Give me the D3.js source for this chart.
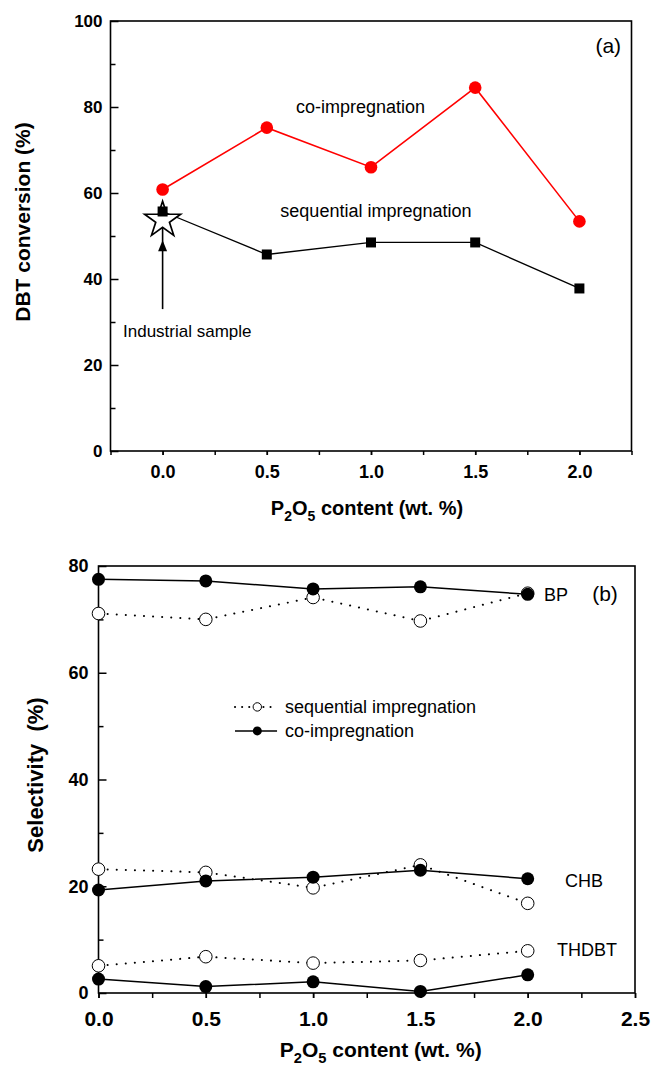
<!DOCTYPE html>
<meta charset="utf-8">
<style>
  body { margin: 0; background: #fff; }
  svg { display: block; font-family: "Liberation Sans", Arial, sans-serif; }
  .axis text { font-weight: bold; fill: #000; }
  .axis line { stroke: #000; stroke-width: 1.5; }
  .note { font-size: 18px; fill: #000; }
</style>
<body>
<script src="https://cdn.jsdelivr.net/npm/d3@7"></script>
<script>
// P2O5 loading (wt. %)
var pContent = [0, 0.5, 1.0, 1.5, 2.0];

// (a) DBT conversion (%)
var dbtCo  = [60.8, 75.2, 66.0, 84.5, 53.4];
var dbtSeq = [55.7, 45.7, 48.5, 48.5, 37.8];
var industrialDBT = 53.7;

// (b) selectivity (%)
var bpCo     = [77.5, 77.2, 75.7, 76.1, 74.7];
var bpSeq    = [71.1, 70.0, 74.1, 69.7, 74.9];
var chbCo    = [19.3, 21.0, 21.7, 23.0, 21.4];
var chbSeq   = [23.2, 22.6, 19.7, 24.0, 16.8];
var thdbtCo  = [2.6, 1.2, 2.1, 0.3, 3.4];
var thdbtSeq = [5.1, 6.8, 5.6, 6.1, 7.9];

var xTicksA = [0, 0.5, 1.0, 1.5, 2.0];
var yTicksA = [0, 20, 40, 60, 80, 100];
var xTicksB = [0, 0.5, 1.0, 1.5, 2.0, 2.5];
var yTicksB = [0, 20, 40, 60, 80];

var width = 652, height = 1072;
var svg = d3.select("body").append("svg")
  .attr("width", width)
  .attr("height", height);
svg.append("rect").attr("width", width).attr("height", height).attr("fill", "#fff");

var xA = d3.scaleLinear().domain([-0.25, 2.25]).range([110.5, 631.5]);
var yA = d3.scaleLinear().domain([0, 100]).range([451, 21]);
var xB = d3.scaleLinear().domain([0, 2.5]).range([98.5, 635]);
var yB = d3.scaleLinear().domain([0, 80]).range([993, 566]);

function zip(xs, ys) { return xs.map(function(x, i) { return [x, ys[i]]; }); }
function fmt1(d) { return d.toFixed(1); }

function drawAxes(g, x, y, o) {
  // minor x ticks (every 0.25), outward
  g.append("g").attr("class", "axis")
    .attr("transform", "translate(0," + y.range()[0] + ")")
    .call(d3.axisBottom(x).tickValues(d3.range(x.domain()[0], x.domain()[1] + 0.01, 0.25))
      .tickSize(o.xTick).tickFormat(""))
    .select(".domain").remove();
  // labelled x ticks
  g.append("g").attr("class", "axis")
    .attr("transform", "translate(0," + y.range()[0] + ")")
    .call(d3.axisBottom(x).tickValues(o.xTicks).tickSize(o.xTick).tickPadding(o.xPad).tickFormat(fmt1))
    .call(function(a) {
      a.select(".domain").remove();
      a.selectAll("text").style("font-size", o.xFont + "px");
    });
  // y ticks, inward
  g.append("g").attr("class", "axis")
    .attr("transform", "translate(" + x.range()[0] + ",0)")
    .call(d3.axisLeft(y).tickValues(o.yTicks.slice(0, -1).map(function(v) { return v + 10; }))
      .tickSize(-5).tickFormat(""))
    .select(".domain").remove();
  g.append("g").attr("class", "axis")
    .attr("transform", "translate(" + x.range()[0] + ",0)")
    .call(d3.axisLeft(y).tickValues(o.yTicks).tickSize(-8).tickPadding(o.yPad).tickFormat(d3.format("d")))
    .call(function(a) {
      a.select(".domain").remove();
      a.selectAll("text").style("font-size", o.yFont + "px");
    });
  // frame
  g.append("rect")
    .attr("x", x.range()[0]).attr("y", y.range()[1])
    .attr("width", x.range()[1] - x.range()[0])
    .attr("height", y.range()[0] - y.range()[1])
    .attr("fill", "none").attr("stroke", "#000").attr("stroke-width", 1.6);

  // x title with subscripts
  var t = g.append("text")
    .attr("x", (x.range()[0] + x.range()[1]) / 2 + o.titleShift)
    .attr("y", o.xTitleY)
    .attr("text-anchor", "middle")
    .style("font-size", o.titleFont + "px")
    .style("font-weight", "bold");
  t.append("tspan").text("P");
  t.append("tspan").attr("dy", 6).style("font-size", (o.titleFont * 0.7) + "px").text("2");
  t.append("tspan").attr("dy", -6).text("O");
  t.append("tspan").attr("dy", 6).style("font-size", (o.titleFont * 0.7) + "px").text("5");
  t.append("tspan").attr("dy", -6).text(" content (wt. %)");

  g.append("text")
    .attr("transform", "translate(" + o.yTitleX + "," + o.yTitleY + ") rotate(-90)")
    .attr("text-anchor", "middle")
    .style("font-size", o.titleFont + 1 + "px")
    .style("font-weight", "bold")
    .style("white-space", "pre")
    .text(o.yTitle);
}

// ---------- panel (a) ----------
var ga = svg.append("g");
drawAxes(ga, xA, yA, {
  xTicks: xTicksA, yTicks: yTicksA, xTick: 4, xPad: 10, yPad: 8,
  xFont: 18, yFont: 17, titleFont: 20, titleShift: -4,
  xTitleY: 515, yTitleX: 30, yTitleY: 222, yTitle: "DBT conversion (%)"
});

var lineA = d3.line().x(function(d) { return xA(d[0]); }).y(function(d) { return yA(d[1]); });

// industrial sample arrow
ga.append("line")
  .attr("x1", xA(0)).attr("x2", xA(0))
  .attr("y1", yA(33)).attr("y2", yA(57))
  .attr("stroke", "#000").attr("stroke-width", 1.6);
function arrowHead(g, cx, tipY) {
  g.append("path")
    .attr("d", "M" + cx + "," + tipY + "l-4.5,11l9,0z")
    .attr("fill", "#000");
}
arrowHead(ga, xA(0), yA(57.3));
arrowHead(ga, xA(0), yA(49.0));

ga.append("path").datum(zip(pContent, dbtSeq))
  .attr("d", lineA).attr("fill", "none").attr("stroke", "#000").attr("stroke-width", 1.3);
ga.append("path").datum(zip(pContent, dbtCo))
  .attr("d", lineA).attr("fill", "none").attr("stroke", "#f00").attr("stroke-width", 1.6);

// star for the industrial catalyst
ga.append("path")
  .attr("transform", "translate(" + xA(0) + "," + yA(industrialDBT) + ")")
  .attr("d", d3.symbol().type(d3.symbolStar).size(400))
  .attr("fill", "#fff").attr("stroke", "#000").attr("stroke-width", 1.7);

ga.selectAll("rect.sq").data(zip(pContent, dbtSeq)).join("rect")
  .attr("class", "sq")
  .attr("x", function(d) { return xA(d[0]) - 5; })
  .attr("y", function(d) { return yA(d[1]) - 5; })
  .attr("width", 10).attr("height", 10).attr("fill", "#000");
ga.selectAll("circle.co").data(zip(pContent, dbtCo)).join("circle")
  .attr("class", "co")
  .attr("cx", function(d) { return xA(d[0]); })
  .attr("cy", function(d) { return yA(d[1]); })
  .attr("r", 6.3).attr("fill", "#f00");

ga.append("text").attr("class", "note").attr("x", xA(0.64)).attr("y", yA(78.6)).text("co-impregnation");
ga.append("text").attr("class", "note").attr("x", xA(0.565)).attr("y", yA(54.4)).text("sequential impregnation");
ga.append("text").attr("class", "note").attr("x", xA(-0.19)).attr("y", yA(26.5)).style("font-size", "17px").text("Industrial sample");
ga.append("text").attr("class", "note").attr("x", xA(2.2)).attr("y", yA(92.6))
  .attr("text-anchor", "end").style("font-size", "21px").text("(a)");

// ---------- panel (b) ----------
var gb = svg.append("g");
drawAxes(gb, xB, yB, {
  xTicks: xTicksB, yTicks: yTicksB, xTick: 5, xPad: 13, yPad: 10,
  xFont: 21, yFont: 18, titleFont: 21, titleShift: 14,
  xTitleY: 1057, yTitleX: 43, yTitleY: 775, yTitle: "Selectivity  (%)"
});

var lineB = d3.line().x(function(d) { return xB(d[0]); }).y(function(d) { return yB(d[1]); });
var seqSeries = [bpSeq, chbSeq, thdbtSeq];
var coSeries = [bpCo, chbCo, thdbtCo];

seqSeries.forEach(function(s) {
  gb.append("path").datum(zip(pContent, s))
    .attr("d", lineB).attr("fill", "none").attr("stroke", "#000")
    .attr("stroke-width", 2).attr("stroke-linecap", "round").attr("stroke-dasharray", "0.1 9");
});
coSeries.forEach(function(s) {
  gb.append("path").datum(zip(pContent, s))
    .attr("d", lineB).attr("fill", "none").attr("stroke", "#000").attr("stroke-width", 1.5);
});
seqSeries.forEach(function(s) {
  gb.append("g").selectAll("circle").data(zip(pContent, s)).join("circle")
    .attr("cx", function(d) { return xB(d[0]); })
    .attr("cy", function(d) { return yB(d[1]); })
    .attr("r", 6.3).attr("fill", "#fff").attr("stroke", "#000").attr("stroke-width", 1);
});
coSeries.forEach(function(s) {
  gb.append("g").selectAll("circle").data(zip(pContent, s)).join("circle")
    .attr("cx", function(d) { return xB(d[0]); })
    .attr("cy", function(d) { return yB(d[1]); })
    .attr("r", 6.5).attr("fill", "#000");
});

// legend
var lg = gb.append("g");
lg.append("line").attr("x1", xB(0.636)).attr("x2", xB(0.832)).attr("y1", yB(53.6)).attr("y2", yB(53.6))
  .attr("stroke", "#000").attr("stroke-width", 2).attr("stroke-linecap", "round").attr("stroke-dasharray", "0.1 7");
lg.append("circle").attr("cx", xB(0.74)).attr("cy", yB(53.6)).attr("r", 4.2)
  .attr("fill", "#fff").attr("stroke", "#000");
lg.append("line").attr("x1", xB(0.636)).attr("x2", xB(0.832)).attr("y1", yB(49.1)).attr("y2", yB(49.1))
  .attr("stroke", "#000").attr("stroke-width", 1.5);
lg.append("circle").attr("cx", xB(0.74)).attr("cy", yB(49.1)).attr("r", 4.5).attr("fill", "#000");
lg.append("text").attr("class", "note").attr("x", xB(0.869)).attr("y", yB(53.6) + 6).text("sequential impregnation");
lg.append("text").attr("class", "note").attr("x", xB(0.869)).attr("y", yB(49.1) + 6).text("co-impregnation");

gb.append("text").attr("class", "note").attr("x", xB(2.076)).attr("y", yB(73.4)).text("BP");
gb.append("text").attr("class", "note").attr("x", xB(2.42)).attr("y", yB(73.4))
  .attr("text-anchor", "end").style("font-size", "21px").text("(b)");
gb.append("text").attr("class", "note").attr("x", xB(2.174)).attr("y", yB(19.9)).text("CHB");
gb.append("text").attr("class", "note").attr("x", xB(2.137)).attr("y", yB(6.9)).text("THDBT");
</script>
</body>
